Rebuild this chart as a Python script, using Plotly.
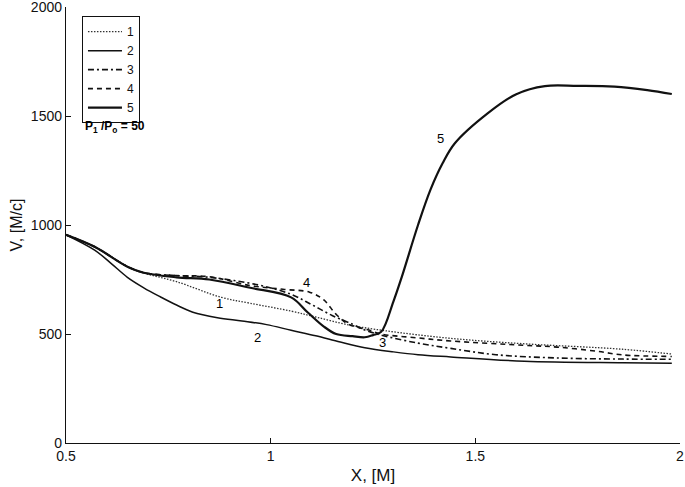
import plotly.graph_objects as go

# ---- data ----
x1 = [0.5, 0.57, 0.65, 0.69, 0.77, 0.88, 0.95, 1.05, 1.11, 1.19, 1.28, 1.44, 1.62, 1.86, 1.98]
y1 = [955, 900, 810, 780, 740, 668, 641, 605, 578, 542, 515, 480, 455, 430, 408]

x2 = [0.5, 0.57, 0.61, 0.65, 0.69, 0.73, 0.77, 0.81, 0.87, 0.93, 0.99, 1.05, 1.11, 1.17, 1.23, 1.3, 1.36, 1.44, 1.62, 1.86, 1.98]
y2 = [955, 885, 824, 760, 712, 671, 633, 600, 575, 560, 543, 517, 492, 463, 437, 418, 405, 395, 375, 368, 366]

x3 = [0.5, 0.57, 0.65, 0.69, 0.77, 0.85, 0.97, 1.05, 1.1, 1.15, 1.2, 1.23, 1.27, 1.36, 1.44, 1.55, 1.7, 1.86, 1.98]
y3 = [955, 900, 809, 781, 768, 760, 725, 682, 635, 585, 545, 518, 495, 458, 434, 405, 390, 385, 384]

x4 = [0.5, 0.57, 0.65, 0.69, 0.77, 0.85, 0.95, 1.03, 1.095, 1.13, 1.16, 1.19, 1.24, 1.27, 1.36, 1.44, 1.62, 1.7, 1.8, 1.86, 1.98]
y4 = [955, 900, 809, 781, 768, 763, 722, 705, 692, 656, 590, 545, 518, 500, 482, 468, 448, 440, 420, 404, 397]

x5 = [0.5, 0.57, 0.65, 0.69, 0.77, 0.85, 0.95, 1.05, 1.09, 1.13, 1.16, 1.2, 1.23, 1.25, 1.27, 1.3, 1.32, 1.36, 1.39, 1.42, 1.45, 1.53, 1.6, 1.67, 1.75, 1.84, 1.92, 1.98]
y5 = [955, 900, 809, 781, 760, 750, 712, 668, 600, 534, 500, 490, 485, 495, 510, 650, 760, 1000, 1160, 1283, 1375, 1512, 1600, 1637, 1638, 1635, 1619, 1601]

series_names = ["1", "2", "3", "4", "5"]

x_ticks = [0.5, 1, 1.5, 2]
x_ticktext = ["0.5", "1", "1.5", "2"]
y_ticks = [0, 500, 1000, 1500, 2000]

label_text = ["1", "2", "3", "4", "5"]
label_x = [0.876, 0.968, 1.273, 1.088, 1.415]
label_y = [638, 486, 463, 734, 1399]

# ---- figure ----
ink = "#111111"
styles = [
    dict(color="#333333", width=1.3, dash="1.5px,1.5px"),
    dict(color=ink, width=1.5, dash="solid"),
    dict(color=ink, width=1.6, dash="6px,3px,2px,3px"),
    dict(color=ink, width=1.6, dash="5px,4px"),
    dict(color=ink, width=2.2, dash="solid"),
]
xs = [x1, x2, x3, x4, x5]
ys = [y1, y2, y3, y4, y5]

fig = go.Figure()
for name, xv, yv, st in zip(series_names, xs, ys, styles):
    fig.add_trace(go.Scatter(x=xv, y=yv, mode="lines", name=name,
                             line=dict(shape="spline", smoothing=1.0, **st)))

for t, lx, ly in zip(label_text, label_x, label_y):
    fig.add_annotation(x=lx, y=ly, text=t, showarrow=False,
                       font=dict(size=13, color="#000000"))

fig.add_annotation(x=0.541, y=1450, xanchor="left", text="<b>P<sub>1</sub> /P<sub>o</sub> = 50</b>",
                   showarrow=False, font=dict(size=12, color="#000000"))

font_family = "Liberation Sans, Arial, sans-serif"
fig.update_layout(
    width=685, height=487,
    margin=dict(l=66, r=5, t=7, b=44),
    paper_bgcolor="white", plot_bgcolor="white",
    font=dict(family=font_family, size=14, color=ink),
    showlegend=True,
    legend=dict(x=0.026, y=0.979, xanchor="left", yanchor="top",
                bgcolor="white", bordercolor=ink, borderwidth=1,
                font=dict(size=12), tracegroupgap=0, itemwidth=34),
    xaxis=dict(range=[0.5, 2], tickvals=x_ticks, ticktext=x_ticktext,
               showline=True, linecolor=ink, linewidth=1.2, ticks="inside",
               ticklen=5, tickcolor=ink, showgrid=False, zeroline=False,
               automargin=False, ticklabeloverflow="allow",
               tickfont=dict(size=14),
               title=dict(text="X, [M]", font=dict(size=17), standoff=6)),
    yaxis=dict(range=[0, 2000], tickvals=y_ticks,
               showline=True, linecolor=ink, linewidth=1.2, ticks="inside",
               ticklen=5, tickcolor=ink, showgrid=False, zeroline=False,
               automargin=False, ticklabeloverflow="allow",
               tickfont=dict(size=14),
               title=dict(text="V, [M/c]", font=dict(size=16), standoff=4)),
)

fig.write_html("out.html", config={"displayModeBar": False, "staticPlot": True},
               post_script="document.body.style.margin='0';document.body.style.overflow='hidden';")
